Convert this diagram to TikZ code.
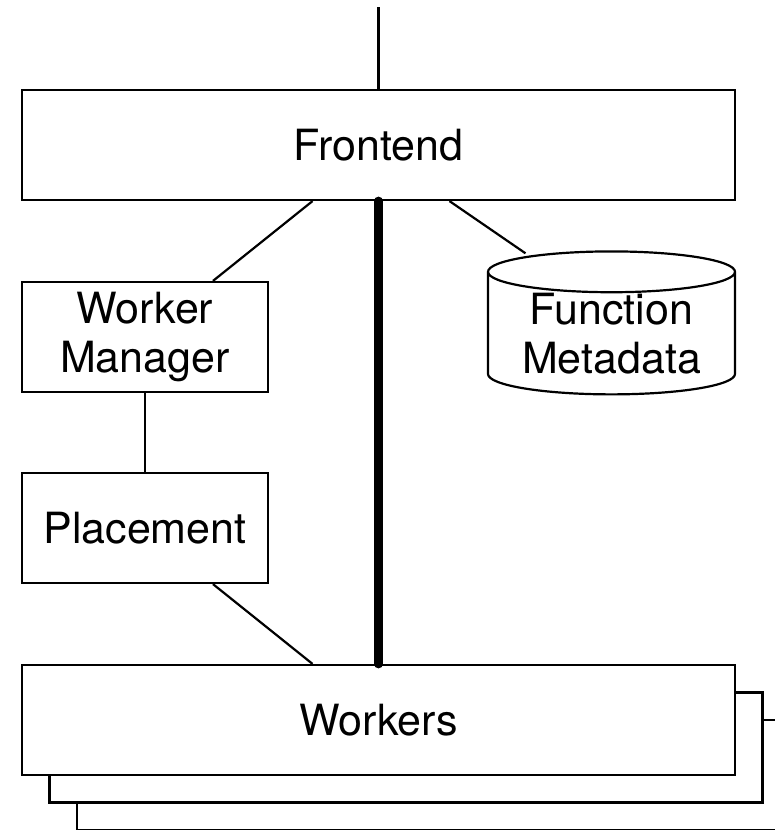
\documentclass[tikz,border=0pt]{standalone}
\usepackage{fontspec}
\setmainfont{TeX Gyre Heros}
\usetikzlibrary{shapes.geometric,shadows,calc}

\begin{document}
\begin{tikzpicture}[x=1pt, y=-1pt,
		box/.style={rectangle, draw, line width=2.2pt, fill=white, align=center, font=\fontsize{43}{49}\selectfont},
		link/.style={line width=2.2pt},
		bus/.style={line width=9pt, line cap=round},
		stack/.style={general shadow={shadow xshift=55pt, shadow yshift=-55pt, draw, fill=white, line width=2.2pt},
			general shadow={shadow xshift=27.5pt, shadow yshift=-27.5pt, draw, fill=white, line width=2.2pt}}]
		\useasboundingbox (0, 0) rectangle (775, 830);
		\clip (0, 0) rectangle (775, 830);

		\node[box, minimum width=713, minimum height=110] (Frontend) at (378.5, 145) {Frontend};
		\node[box, minimum width=246, minimum height=110] (WM) at (145, 337) {Worker\\Manager};
		\node[box, minimum width=246, minimum height=110] (Placement) at (145, 528) {Placement};
		\node[box, cylinder, shape border rotate=90, aspect=0.22, minimum width=247, minimum height=138, inner ysep=0pt, text depth=5pt] (Meta) at (611.5, 336) {Function\\Metadata};
		\node[box, stack, minimum width=713, minimum height=110] (Workers) at (378.5, 720) {Workers};
		\coordinate (In) at (378.5, 7);

		\draw[link] (In) -- (Frontend.north);
		\draw[link] ([xshift=-66pt]Frontend.south) -- ([xshift=68pt]WM.north);
		\draw[link] ([xshift=71pt]Frontend.south) -- ([xshift=-86pt, yshift=-3pt]Meta.north);
		\draw[link] (WM.south) -- (Placement.north);
		\draw[link] ([xshift=68pt]Placement.south) -- ([xshift=-66pt]Workers.north);
		\draw[bus] (Frontend.south) -- (Workers.north);
	\end{tikzpicture}
\end{document}
